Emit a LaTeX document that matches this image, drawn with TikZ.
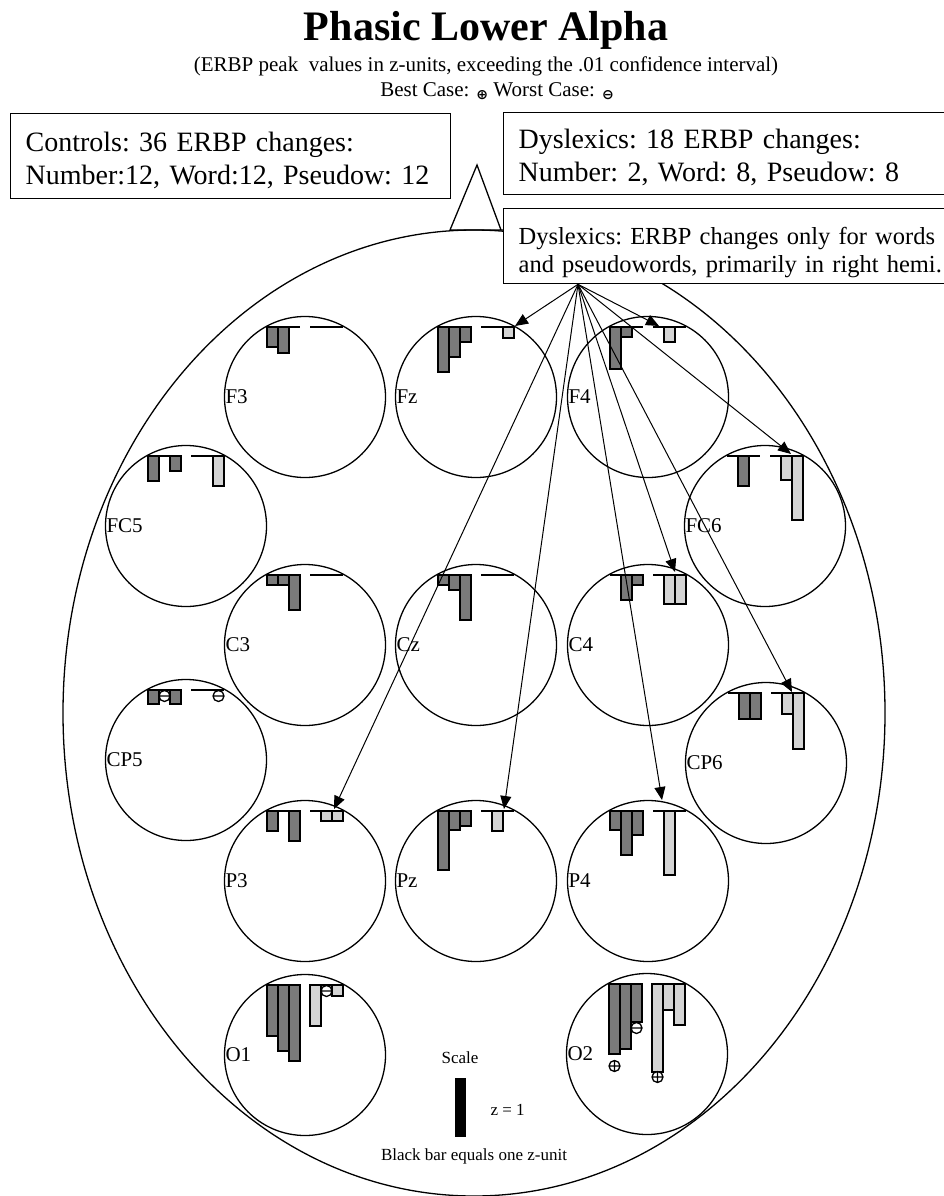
\documentclass[tikz,border=0pt]{standalone}
\usepackage{fontspec}
\setmainfont{Liberation Serif}
\newfontfamily\symfont{DejaVu Sans}
\usepackage{tikz}
\usetikzlibrary{arrows.meta, positioning, calc}

\begin{document}
\begin{tikzpicture}[
  x=1pt, y=-1pt,
  % Define fills
  darkfill/.style={fill=black!52},
  lightfill/.style={fill=black!17},
  % Base style for outlines
  outline/.style={draw, line width=1.3pt},
  electrode/.style={outline, circle, minimum size=161pt, inner sep=0pt},
  elabel/.style={font=\fontsize{21}{21}\selectfont, inner sep=1.5pt, anchor=west},
  % Bars inheriting from outline
  ctlbar/.style={draw, line width=1.2pt, darkfill},
  dysbar/.style={draw, line width=1.2pt, lightfill},
  zeroline/.style={line width=1.2pt},
  infobox/.style={outline, fill=white, anchor=north west, align=left, inner xsep=15pt, inner ysep=0pt},
  pointer/.style={line width=1pt, -{Triangle[length=13pt, width=11pt]}},
  plain/.style={font=\fontsize{17}{20}\selectfont},
  worst/.pic={\draw[line width=1.3pt, fill=white] (0,0) circle[radius=5.5pt] (-5.5pt,0) -- (5.5pt,0);},
  best/.pic={\draw[line width=1.3pt, fill=white] (0,0) circle[radius=5.5pt] (-5.5pt,0) -- (5.5pt,0) (0,-5.5pt) -- (0,5.5pt);}
]
  \useasboundingbox (0,0) rectangle (944,1196);

  % Title lines
  \node[anchor=base, font=\fontsize{42}{48}\selectfont\bfseries] (title) at (486,41) {Phasic Lower Alpha};
  \node[anchor=base, font=\fontsize{21}{24}\selectfont] (subtitle) at (486,72) {(ERBP peak\ \ values in z-units, exceeding the .01 confidence interval)};
  \node[anchor=base, font=\fontsize{21}{24}\selectfont] (cases) at (497,97) {Best Case: \raisebox{-2.5pt}{\symfont\bfseries\fontsize{14}{14}\selectfont ⊕}\ Worst Case: \raisebox{-2.5pt}{\symfont\bfseries\fontsize{14}{14}\selectfont ⊖}};

  % Head and nose
  \draw[outline] (474,713) ellipse[x radius=411pt, y radius=483pt];
  \draw[outline] (450,230) -- (477,165) -- (501,230) (450,230) -- (505,230);

  % Electrodes with zero lines for both groups
  \foreach \el/\x/\y in {F3/305/397, Fz/476/397, F4/648/397, FC5/186/526, FC6/765/526,
                         C3/305/645, Cz/476/645, C4/648/645, CP5/186/760, CP6/766/763,
                         P3/305/881, Pz/476/881, P4/648/881, O1/305/1055, O2/647/1054} {
    \node[electrode] (\el) at (\x,\y) {};
    \node[elabel] (\el-lab) at (\el.west) {\el};
    \coordinate (\el-o) at ($(\el.center)+(-38,-70)$);
    \draw[zeroline] (\el-o) -- ++(33,0) ($(\el-o)+(43,0)$) -- ++(33,0);
  }

  % Controls: number, word, pseudoword slots
  \foreach \el/\s/\d in {F3/0/20, F3/1/26, Fz/0/45, Fz/1/30, Fz/2/15, F4/0/42, F4/1/10,
                         FC5/0/25, FC5/2/15, FC6/1/30, C3/0/10, C3/1/10, C3/2/35,
                         Cz/0/10, Cz/1/15, Cz/2/45, C4/1/25, C4/2/10, CP5/0/14, CP5/2/14,
                         CP6/1/26, CP6/2/26, P3/0/20, P3/2/30, Pz/0/59, Pz/1/19, Pz/2/15,
                         P4/0/19, P4/1/44, P4/2/24, O1/0/51, O1/1/66, O1/2/76,
                         O2/0/70, O2/1/65, O2/2/38}
    \draw[ctlbar] ($(\el-o)+(\s*11,0)$) rectangle ++(11,\d);

  % Dyslexics
  \foreach \el/\s/\d in {Fz/2/11, F4/1/15, FC5/2/30, FC6/1/24, FC6/2/64, C4/1/29, C4/2/29,
                         CP6/1/21, CP6/2/56, P3/1/10, P3/2/10, Pz/1/20, P4/1/64,
                         O1/0/41, O1/2/11, O2/0/88, O2/1/26, O2/2/41}
    \draw[dysbar] ($(\el-o)+(43+\s*11,0)$) rectangle ++(11,\d);

  % Best and worst cases
  \pic at ($(CP5-o)+(16.5,6)$) {worst};
  \pic at ($(CP5-o)+(70.5,6)$) {worst};
  \pic at ($(O1-o)+(59.5,6)$) {worst};
  \pic at ($(O2-o)+(27.5,44)$) {worst};
  \pic at ($(O2-o)+(5.5,82)$) {best};
  \pic at ($(O2-o)+(48.5,93)$) {best};

  % Summary boxes
  \node[infobox, minimum width=440pt, minimum height=85pt, text width=410pt,
        font=\fontsize{28}{33}\selectfont\frenchspacing] (controls) at (10,113)
        {\rule{0pt}{28.3pt}Controls: 36 ERBP changes:\\ Number:12, Word:12, Pseudow: 12};
  \node[infobox, minimum width=480pt, minimum height=82pt, text width=450pt,
        font=\fontsize{28}{33}\selectfont\frenchspacing] (dyslexics) at (503,112)
        {\rule{0pt}{27.5pt}Dyslexics: 18 ERBP changes:\\ Number: 2, Word: 8, Pseudow: 8};
  \node[infobox, minimum width=480pt, minimum height=75pt, text width=450pt,
        font=\fontsize{24.5}{28}\selectfont\frenchspacing] (dysnote) at (503,208)
        {\rule{0pt}{30pt}Dyslexics: ERBP changes only for words\\ and pseudowords, primarily in right hemi.};

  % Arrows from the note to the dyslexic bars
  \coordinate (hub) at ($(dysnote.south west)+(75,0)$);
  \foreach \el/\dx/\dy in {Fz/77/-1, F4/49/-1, FC6/64/-2, C4/65/-3, CP6/64/-1,
                           P3/67/-2, Pz/66/-2, P4/52/-11}
    \draw[pointer] (hub) -- ($(\el-o)+(\dx,\dy)$);

  % Scale
  \node[anchor=base, plain] (scale) at (460,1063) {Scale};
  \node[fill=black, minimum width=11pt, minimum height=59pt, inner sep=0pt, anchor=north] (unitbar) at (460.5,1078) {};
  \node[anchor=base west, plain] (zunit) at (487,1115) {z = 1};
  \node[anchor=base, plain] (scalenote) at (474,1160) {Black bar equals one z-unit};

\end{tikzpicture}
\end{document}
